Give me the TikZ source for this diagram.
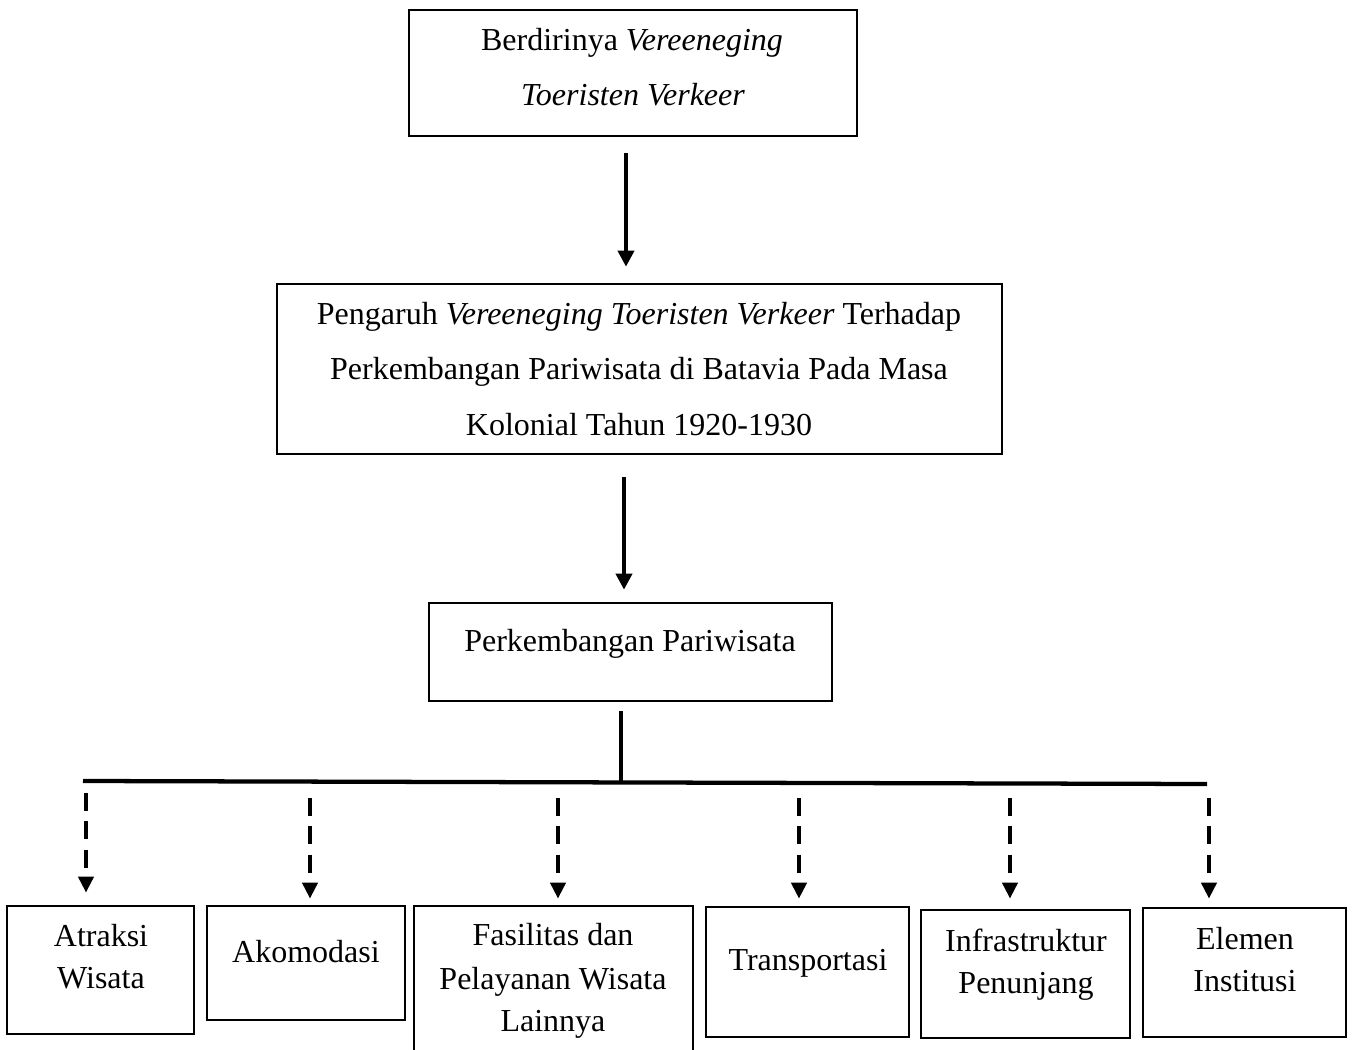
\documentclass[tikz,border=0pt]{standalone}
\usepackage{fontspec}
\setmainfont{Liberation Serif}
\usetikzlibrary{arrows.meta,fit}
\begin{document}
\begin{tikzpicture}[x=0.375pt,y=-0.375pt,
  box/.style={draw, line width=1pt, inner sep=0pt},
  txt/.style={anchor=base, inner sep=0pt, font=\fontsize{12}{14}\selectfont},
  solidarrow/.style={line width=1.4pt, -{Triangle[length=6pt,width=6pt]}},
  dasharrow/.style={line width=1.7pt, dash pattern=on 6.8pt off 3.8pt, -{Triangle[length=6pt,width=5.6pt]}},
  bar/.style={line width=1.6pt}]
\useasboundingbox (0,0) rectangle (1352,1050);
\clip (0,0) rectangle (1352,1050);
% boxes
\node[box, fit={(409,10) (857,136)}] (b1) {};
\node[box, fit={(277,284) (1002,454)}] (b2) {};
\node[box, fit={(429,603) (832,701)}] (b3) {};
\node[box, fit={(7,906) (194,1034)}] (c1) {};
\node[box, fit={(207,906) (405,1020)}] (c2) {};
\node[box, fit={(414,906) (693,1070)}] (c3) {};
\node[box, fit={(706,907) (909,1037)}] (c4) {};
\node[box, fit={(921,910) (1130,1038)}] (c5) {};
\node[box, fit={(1143,908) (1346,1037)}] (c6) {};
% texts
\node[txt] (t1a) at (632,50) {Berdirinya \textit{Vereeneging}};
\node[txt] (t1b) at (633,105) {\textit{Toeristen Verkeer}};
\node[txt] (t2a) at (639,324) {Pengaruh \textit{Vereeneging Toeristen Verkeer} Terhadap};
\node[txt] (t2b) at (639,379) {Perkembangan Pariwisata di Batavia Pada Masa};
\node[txt] (t2c) at (639,435) {Kolonial Tahun 1920-1930};
\node[txt] (t3) at (630,651) {Perkembangan Pariwisata};
\node[txt] (u1a) at (101,946) {Atraksi};
\node[txt] (u1b) at (101,988) {Wisata};
\node[txt] (u2) at (306,962) {Akomodasi};
\node[txt] (u3a) at (553,945) {Fasilitas dan};
\node[txt] (u3b) at (553,989) {Pelayanan Wisata};
\node[txt] (u3c) at (553,1031) {Lainnya};
\node[txt] (u4) at (808,970) {Transportasi};
\node[txt] (u5a) at (1026,951) {Infrastruktur};
\node[txt] (u5b) at (1026,993) {Penunjang};
\node[txt] (u6a) at (1245,949) {Elemen};
\node[txt] (u6b) at (1245,991) {Institusi};
% solid arrows
\coordinate (x1) at (626,0);
\coordinate (x2) at (624,0);
\coordinate (x3) at (621,0);
\draw[solidarrow, shorten <=6pt, shorten >=6pt] (x1 |- b1.south) -- (x1 |- b2.north);
\draw[solidarrow, shorten <=8.25pt, shorten >=4.5pt] (x2 |- b2.south) -- (x2 |- b3.north);
% bar
\coordinate (barL) at (83,781);
\coordinate (barR) at (1207,784);
\coordinate (j) at (621,782.4);
\draw[bar] (barL) -- (barR);
\draw[bar, shorten <=3.4pt] (x3 |- b3.south) -- (j);
% dashed arrows
\coordinate (d1) at (86,793);
\coordinate (d2) at (310,798);
\coordinate (d3) at (558,798);
\coordinate (d4) at (799,798);
\coordinate (d5) at (1010,798);
\coordinate (d6) at (1209,798);
\draw[dasharrow, shorten >=4.5pt] (d1) -- (d1 |- c1.north);
\draw[dasharrow, shorten >=2.25pt] (d2) -- (d2 |- c2.north);
\draw[dasharrow, shorten >=2.25pt] (d3) -- (d3 |- c3.north);
\draw[dasharrow, shorten >=2.6pt] (d4) -- (d4 |- c4.north);
\draw[dasharrow, shorten >=3.75pt] (d5) -- (d5 |- c5.north);
\draw[dasharrow, shorten >=3pt] (d6) -- (d6 |- c6.north);
\end{tikzpicture}
\end{document}
